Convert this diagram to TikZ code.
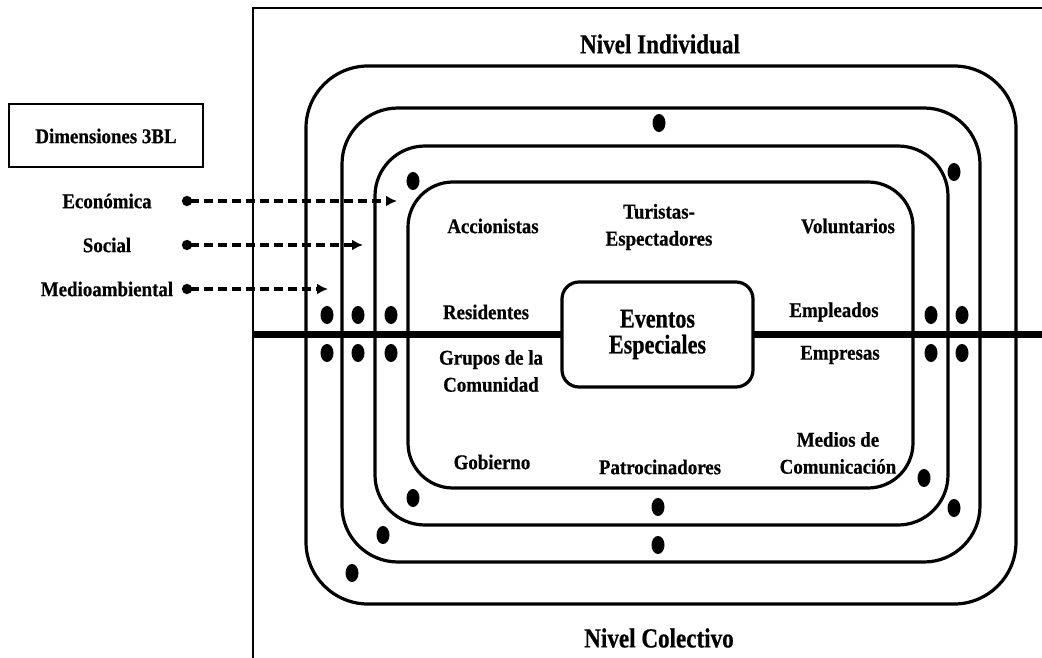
\documentclass[tikz,border=0pt]{standalone}
\usepackage{fontspec}
\setmainfont{Liberation Serif}
\newfontfamily\lblfont[FakeStretch=0.9, BoldFeatures={FakeBold=0.6}]{Liberation Serif}
\newfontfamily\hdfont[FakeStretch=0.84, BoldFeatures={FakeBold=0.6}]{Liberation Serif}
\newfontfamily\corefont[FakeStretch=0.82, BoldFeatures={FakeBold=0.6}]{Liberation Serif}
\usetikzlibrary{arrows.meta}
\begin{document}
\begin{tikzpicture}[x=1pt,y=-1pt,
  lbl/.style={font=\lblfont\bfseries\fontsize{21}{27}\selectfont, align=center, inner sep=0pt},
  heading/.style={font=\hdfont\bfseries\fontsize{27.5}{30}\selectfont, inner sep=0pt},
  core/.style={font=\corefont\bfseries\fontsize{27}{26}\selectfont, align=center, inner sep=0pt},
  ring/.style={line width=3.2pt},
  blob/.style={fill=black},
  dimarrow/.style={line width=3.6pt, dash pattern=on 9pt off 5pt,
    {Circle[length=10pt]}-{Latex[length=11pt,width=11pt]}},
]
\useasboundingbox (0,0) rectangle (1042,658);

% outer frame (open on the right and at the bottom)
\draw[line width=2.8pt] (1042,8) -- (253,8) -- (253,658);

% nested levels
\draw[ring, rounded corners=62pt] (306,66) rectangle (1016,604);
\draw[ring, rounded corners=56pt] (342,108) rectangle (980,562);
\draw[ring, rounded corners=50pt] (375,146) rectangle (948,525);
\draw[ring, rounded corners=45pt] (408,182) rectangle (913,488);

% dividing axis
\draw[line width=7pt] (253,334) -- (1042,334);

% centre
\node[core, draw, line width=3.2pt, fill=white, rounded corners=17pt,
      minimum width=191pt, minimum height=105pt] (ev) at (657.5,334.5)
      {Eventos\\Especiales};

% dots on the levels
\foreach \x in {327,358,391,931,962}{
  \fill[blob] (\x,315) ellipse (6.5pt and 9pt);
  \fill[blob] (\x,353) ellipse (6.5pt and 9pt);
}
\foreach \p in {(659,123),(413,181),(954,172),(413,498),(658,507),
                (924,478),(954,508),(383,535),(658,545),(352,573)}{
  \fill[blob] \p ellipse (6.5pt and 9pt);
}

% level headings
\node[heading] (ind) at (660,44) {Nivel Individual};
\node[heading] (col) at (659,638) {Nivel Colectivo};

% stakeholders
\node[lbl] (acc) at (493,226) {Accionistas};
\node[lbl] (tur) at (659,227) {Turistas-\\Espectadores};
\node[lbl] (vol) at (848,226) {Voluntarios};
\node[lbl] (res) at (486,312) {Residentes};
\node[lbl] (gru) at (491,371) {Grupos de la\\Comunidad};
\node[lbl] (emp) at (834,312) {Empleados};
\node[lbl] (ems) at (840,355) {Empresas};
\node[lbl] (gob) at (492,462) {Gobierno};
\node[lbl] (pat) at (660,467) {Patrocinadores};
\node[lbl] (med) at (838,453) {Medios de\\Comunicación};

% 3BL legend
\node[lbl, draw, line width=2pt, minimum width=194pt, minimum height=63pt]
  (dim) at (106,136) {Dimensiones 3BL};
\node[lbl] (eco) at (107,201) {Económica};
\node[lbl] (soc) at (107,245) {Social};
\node[lbl] (mam) at (107,289) {Medioambiental};

\coordinate (eco0) at (182,201);
\coordinate (soc0) at (182,245);
\coordinate (mam0) at (182,289);
\coordinate (eco1) at (397,201);
\coordinate (soc1) at (363,245);
\coordinate (mam1) at (328,289);

\draw[dimarrow] (eco0) -- (eco1);
\draw[dimarrow] (soc0) -- (soc1);
\draw[dimarrow] (mam0) -- (mam1);
\end{tikzpicture}
\end{document}
